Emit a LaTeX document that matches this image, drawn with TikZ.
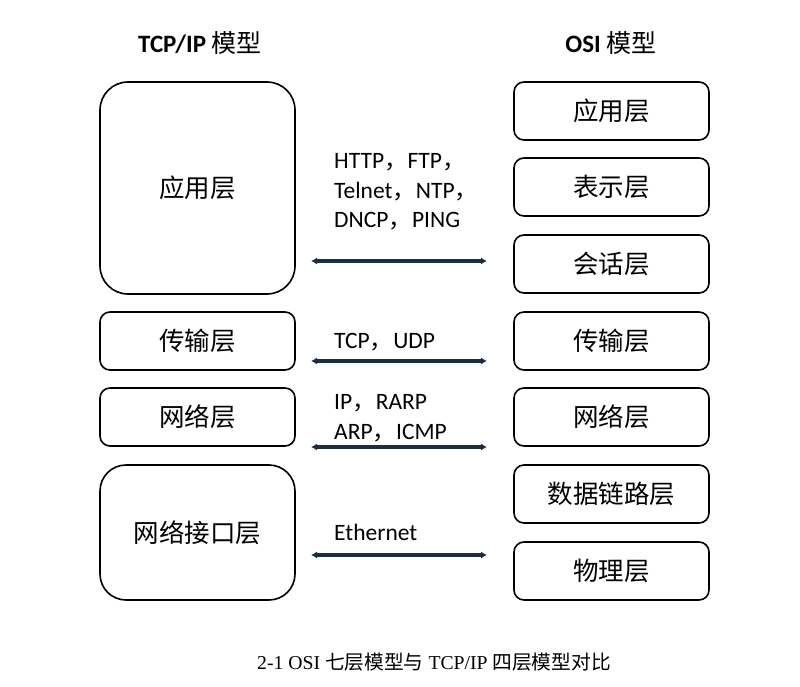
\documentclass[tikz,border=0pt]{standalone}
\usepackage{fontspec}
\setmainfont{Carlito}
\newfontfamily\cjk{Noto Sans CJK SC}
\newfontfamily\capfont{Liberation Serif}
\usetikzlibrary{arrows.meta}
\definecolor{arrcol}{RGB}{28,44,66}
\newcommand{\zc}{{\cjk ，}}
\tikzset{
  layer/.style={draw=black, line width=1.6pt, rounded corners=10pt, minimum width=195pt,
    minimum height=58pt, inner sep=0pt, font=\cjk\fontsize{25.5}{29}\selectfont},
  biglayer/.style={layer, rounded corners=28pt},
  proto/.style={anchor=west, inner sep=0pt, align=left, font=\fontsize{23.5}{29.5}\selectfont},
  biarrow/.style={{Latex[length=6pt,width=7pt]}-{Latex[length=6pt,width=7pt]}, draw=arrcol, line width=3.2pt},
  title/.style={inner sep=0pt, font=\fontsize{25}{29}\selectfont\bfseries}
}
\begin{document}
\begin{tikzpicture}[x=1pt,y=-1pt]
\useasboundingbox (0,0) rectangle (800,687);
% titles
\node[title] (ttcp) at (200,43) {TCP/IP {\cjk\mdseries 模型}};
\node[title] (tosi) at (611,43) {OSI {\cjk\mdseries 模型}};
% TCP/IP column
\node[biglayer, minimum height=212pt] (lapp) at (197.5,188) {应用层};
\node[layer] (ltrans) at (197.5,341) {传输层};
\node[layer] (lnet) at (197.5,417) {网络层};
\node[biglayer, minimum height=135pt, rounded corners=26pt] (lif) at (197.5,532.5) {网络接口层};
% OSI column
\node[layer] (rapp) at (611.5,111) {应用层};
\node[layer] (rpres) at (611.5,187) {表示层};
\node[layer] (rsess) at (611.5,264) {会话层};
\node[layer] (rtrans) at (611.5,341) {传输层};
\node[layer] (rnet) at (611.5,417) {网络层};
\node[layer] (rdl) at (611.5,494) {数据链路层};
\node[layer] (rphy) at (611.5,571) {物理层};
% protocol labels
\node[proto] (p1) at (334,192) {HTTP\zc FTP\zc\\Telnet\zc NTP\zc\\DNCP\zc PING};
\node[proto] (p2) at (334,342) {TCP\zc UDP};
\node[proto] (p3) at (334,418) {IP\zc RARP\\ARP\zc ICMP};
\node[proto] (p4) at (334,532) {Ethernet};
% arrow ends
\coordinate (a1l) at (311,261); \coordinate (a1r) at (487,261);
\coordinate (a2l) at (311,361); \coordinate (a2r) at (487,361);
\coordinate (a3l) at (311,447); \coordinate (a3r) at (487,447);
\coordinate (a4l) at (311,555); \coordinate (a4r) at (487,555);
\draw[biarrow] (a1l) -- (a1r);
\draw[biarrow] (a2l) -- (a2r);
\draw[biarrow] (a3l) -- (a3r);
\draw[biarrow] (a4l) -- (a4r);
% caption
\node[inner sep=0pt, font=\capfont\fontsize{19.7}{23}\selectfont] (cap) at (434,662) {2-1 OSI {\cjk 七层模型与} TCP/IP {\cjk 四层模型对比}};
\end{tikzpicture}
\end{document}
